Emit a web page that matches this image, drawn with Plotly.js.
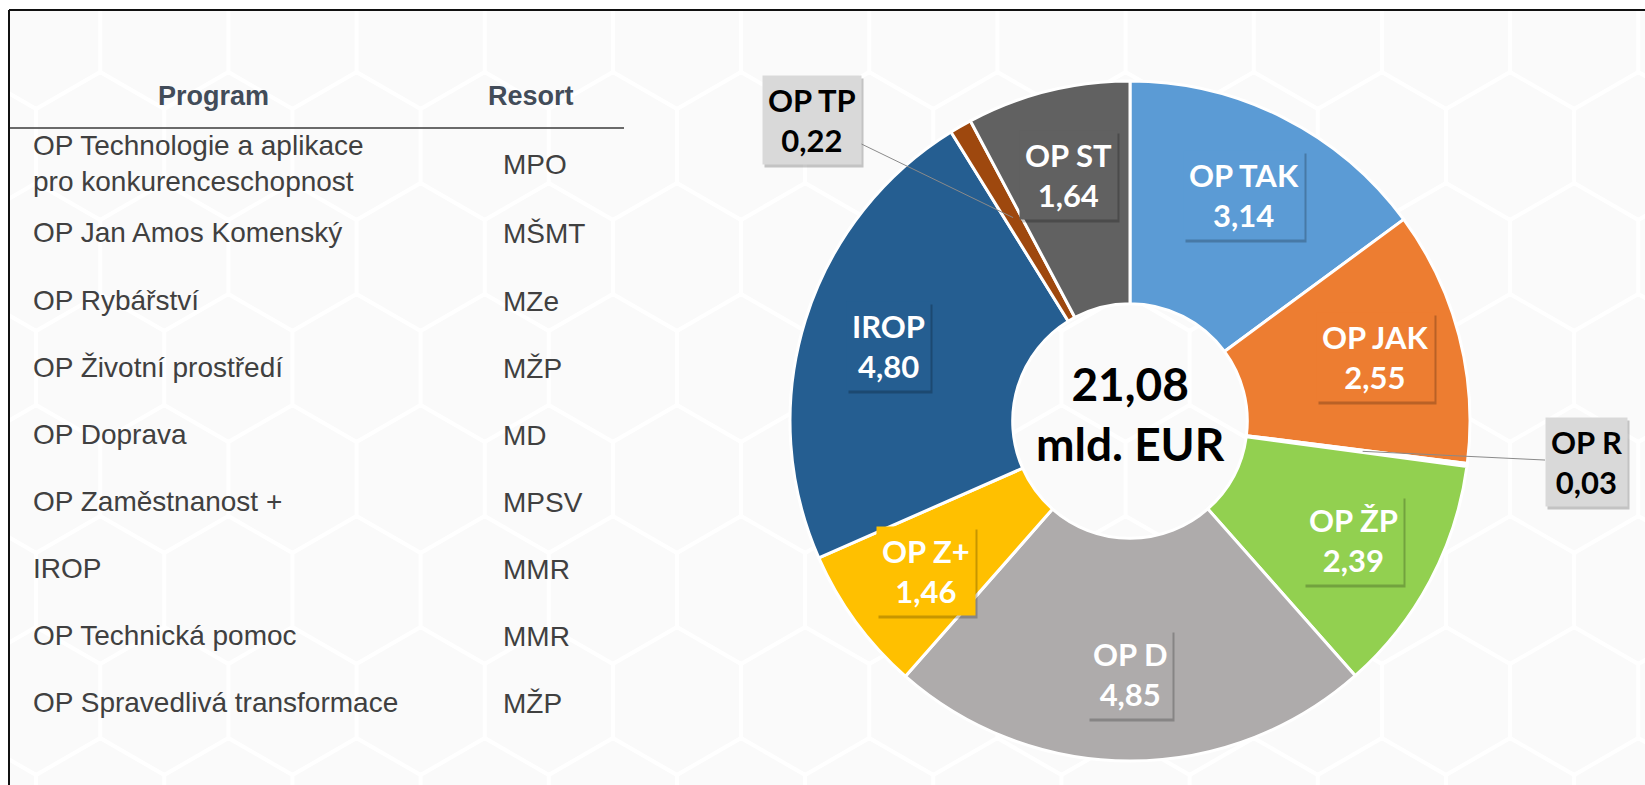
<!DOCTYPE html>
<html>
<head>
<meta charset="utf-8">
<script src="https://cdn.plot.ly/plotly-3.0.1.min.js"></script>
<style>
  html, body { margin: 0; padding: 0; background: #ffffff; }
  #chart { width: 1645px; height: 785px; }
</style>
</head>
<body>
<div id="chart"></div>
<script>
// ---------- DATA ----------
const sliceLabels = ['OP TAK', 'OP JAK', 'OP R', 'OP ŽP', 'OP D', 'OP Z+', 'IROP', 'OP TP', 'OP ST'];
const sliceValues = [3.14, 2.55, 0.03, 2.39, 4.85, 1.46, 4.80, 0.22, 1.64];
const sliceColors = ['#5B9BD5', '#ED7D31', '#A5A5A5', '#92D050', '#AEABAB', '#FFC000', '#255E91', '#9E480E', '#616161'];
const calloutLabels = ['OP R', 'OP TP'];   // slices labelled outside with a leader line
const totalUnit = 'mld. EUR';

const tableHeader = ['Program', 'Resort'];
const programs = [
  'OP Technologie a aplikace<br>pro konkurenceschopnost',
  'OP Jan Amos Komenský',
  'OP Rybářství',
  'OP Životní prostředí',
  'OP Doprava',
  'OP Zaměstnanost +',
  'IROP',
  'OP Technická pomoc',
  'OP Spravedlivá transformace'
];
const resorts = ['MPO', 'MŠMT', 'MZe', 'MŽP', 'MD', 'MPSV', 'MMR', 'MMR', 'MŽP'];

// ---------- LAYOUT HELPERS ----------
const W = 1645, H = 785;
const X = p => p / W;
const Y = p => 1 - p / H;
const fmt = v => v.toFixed(2).replace('.', ',');

const cx = 1130, cy = 421, R = 340;

const annotations = [];
const shapes = [];

// faint background hexagon pattern (decoration)
(function () {
  const r = 74, w = Math.sqrt(3) * r;
  let path = '';
  for (let row = -1; row < 9; row++) {
    const yc = 35 + row * 1.5 * r;
    const off = (row % 2 === 0) ? 0 : w / 2;
    for (let k = -12; k < 3; k++) {
      const xc = 1446 + off + k * w;
      let d = '';
      for (let i = 0; i < 6; i++) {
        const a = Math.PI / 180 * (60 * i - 90);
        const px = xc + r * Math.cos(a), py = yc + r * Math.sin(a);
        d += (i === 0 ? 'M' : 'L') + X(px).toFixed(5) + ',' + Y(py).toFixed(5);
      }
      path += d + 'Z';
    }
  }
  shapes.push({type: 'path', xref: 'paper', yref: 'paper', path: path,
    line: {color: '#ffffff', width: 4}, layer: 'below'});
})();

// area outside the frame + frame lines
shapes.push({type: 'rect', xref: 'paper', yref: 'paper', x0: 0, x1: 1, y0: Y(10), y1: 1,
  fillcolor: '#ffffff', line: {width: 0}, layer: 'below'});
shapes.push({type: 'rect', xref: 'paper', yref: 'paper', x0: 0, x1: X(10), y0: 0, y1: 1,
  fillcolor: '#ffffff', line: {width: 0}, layer: 'below'});
shapes.push({type: 'line', xref: 'paper', yref: 'paper', x0: X(9), x1: 1, y0: Y(10), y1: Y(10),
  line: {color: '#111111', width: 2}});
shapes.push({type: 'line', xref: 'paper', yref: 'paper', x0: X(9), x1: X(9), y0: Y(10), y1: 0,
  line: {color: '#111111', width: 2}});

// ---------- TABLE ----------
const headFont = {family: 'Liberation Sans, Arial, sans-serif', size: 27, color: '#424c59'};
const bodyFont = {family: 'Liberation Sans, Arial, sans-serif', size: 28, color: '#404040'};
annotations.push({xref: 'paper', yref: 'paper', x: X(213), y: Y(96), text: '<b>' + tableHeader[0] + '</b>',
  showarrow: false, xanchor: 'center', yanchor: 'middle', font: headFont});
annotations.push({xref: 'paper', yref: 'paper', x: X(531), y: Y(96), text: '<b>' + tableHeader[1] + '</b>',
  showarrow: false, xanchor: 'center', yanchor: 'middle', font: headFont});
shapes.push({type: 'line', xref: 'paper', yref: 'paper', x0: X(10), x1: X(624), y0: Y(128), y1: Y(128),
  line: {color: '#3a3a3a', width: 1.5}});

programs.forEach((p, i) => {
  const yc = i === 0 ? 164 : 233 + (i - 1) * 67.1;
  annotations.push({xref: 'paper', yref: 'paper', x: X(31), y: Y(yc), text: p, align: 'left',
    showarrow: false, xanchor: 'left', yanchor: 'middle', font: bodyFont});
  annotations.push({xref: 'paper', yref: 'paper', x: X(501), y: Y(yc + 1), text: resorts[i], align: 'left',
    showarrow: false, xanchor: 'left', yanchor: 'middle', font: bodyFont});
});

// ---------- DONUT LABELS ----------
const total = sliceValues.reduce((a, b) => a + b, 0);
const labelFont = {family: 'Lato, Open Sans, sans-serif', size: 31};
let cum = 0;
sliceValues.forEach((v, i) => {
  const mid = (cum + v / 2) / total * 2 * Math.PI;
  cum += v;
  const txt = '<b>' + sliceLabels[i] + '</b><br><b>' + fmt(v) + '</b>';
  if (calloutLabels.includes(sliceLabels[i])) {
    const rr = 0.69 * R;
    const px = cx + rr * Math.sin(mid), py = cy - rr * Math.cos(mid);
    const ax = sliceLabels[i] === 'OP TP' ? 812 - px : 1586 - px;
    const ay = sliceLabels[i] === 'OP TP' ? 120 - py : 462 - py;
    annotations.push({xref: 'paper', yref: 'paper', x: X(px), y: Y(py), ax: ax + 2, ay: ay + 3,
      xanchor: 'center', yanchor: 'middle',
      text: txt, showarrow: true, arrowcolor: 'rgba(0,0,0,0)', arrowwidth: 1, arrowhead: 0,
      bgcolor: 'rgba(0,0,0,0.22)', borderpad: 5, font: Object.assign({}, labelFont, {color: 'rgba(0,0,0,0)'})});
    annotations.push({xref: 'paper', yref: 'paper', x: X(px), y: Y(py), ax: ax, ay: ay,
      xanchor: 'center', yanchor: 'middle',
      text: txt, showarrow: true, arrowcolor: '#8a8a8a', arrowwidth: 1, arrowhead: 0, standoff: 0,
      bgcolor: '#D9D9D9', borderpad: 5, font: Object.assign({}, labelFont, {color: '#000000'})});
  } else {
    const rr = 0.745 * R;
    const px = cx + rr * Math.sin(mid), py = cy - rr * Math.cos(mid);
    annotations.push({xref: 'paper', yref: 'paper', x: X(px), y: Y(py), xshift: 2, yshift: -3,
      xanchor: 'center', yanchor: 'middle',
      text: txt, showarrow: false, bgcolor: 'rgba(0,0,0,0.22)', borderpad: 5,
      font: Object.assign({}, labelFont, {color: 'rgba(0,0,0,0)'})});
    annotations.push({xref: 'paper', yref: 'paper', x: X(px), y: Y(py),
      xanchor: 'center', yanchor: 'middle',
      text: txt, showarrow: false, bgcolor: sliceColors[i], borderpad: 5,
      font: Object.assign({}, labelFont, {color: '#ffffff'})});
  }
});

// centre total
annotations.push({xref: 'paper', yref: 'paper', x: X(cx), y: Y(413),
  text: '<b>' + fmt(total) + '</b><br><b>' + totalUnit + '</b>', showarrow: false,
  xanchor: 'center', yanchor: 'middle',
  font: {family: 'Lato, Open Sans, sans-serif', size: 46, color: '#000000'}});

// ---------- TRACE ----------
const trace = {
  type: 'pie',
  labels: sliceLabels,
  values: sliceValues,
  sort: false,
  direction: 'clockwise',
  rotation: 0,
  hole: 0.345,
  textinfo: 'none',
  hoverinfo: 'label+value',
  marker: {colors: sliceColors, line: {color: '#ffffff', width: 3}},
  domain: {x: [X(cx - R), X(cx + R)], y: [Y(cy + R), Y(cy - R)]},
  showlegend: false
};

const layout = {
  width: W, height: H,
  margin: {l: 0, r: 0, t: 0, b: 0},
  paper_bgcolor: '#fafafa',
  plot_bgcolor: 'rgba(0,0,0,0)',
  showlegend: false,
  shapes: shapes,
  annotations: annotations
};

Plotly.newPlot('chart', [trace], layout, {displayModeBar: false, staticPlot: true});
</script>
</body>
</html>
